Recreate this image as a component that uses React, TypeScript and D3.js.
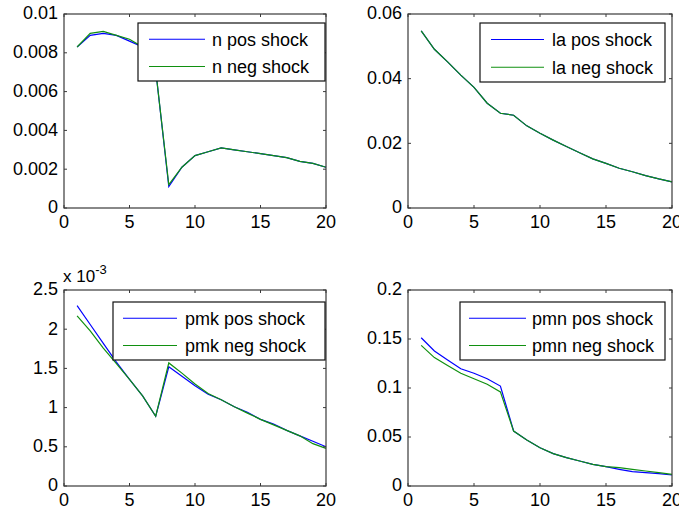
import React from "react";
import * as d3 from "d3";

const periods = [1, 2, 3, 4, 5, 6, 7, 8, 9, 10, 11, 12, 13, 14, 15, 16, 17, 18, 19, 20];

const nPos = [0.0083, 0.0089, 0.0090, 0.0089, 0.0086, 0.0083, 0.0071, 0.0011, 0.0021, 0.0027, 0.0029, 0.0031, 0.0030, 0.0029, 0.0028, 0.0027, 0.0026, 0.0024, 0.0023, 0.0021];
const nNeg = [0.0083, 0.0090, 0.0091, 0.0089, 0.0087, 0.0083, 0.0071, 0.0012, 0.0021, 0.0027, 0.0029, 0.0031, 0.0030, 0.0029, 0.0028, 0.0027, 0.0026, 0.0024, 0.0023, 0.0021];

const laPos = [0.0548, 0.0491, 0.0452, 0.0411, 0.0373, 0.0324, 0.0293, 0.0287, 0.0254, 0.0231, 0.0210, 0.0190, 0.0171, 0.0152, 0.0138, 0.0123, 0.0112, 0.0100, 0.0090, 0.0081];
const laNeg = [0.0548, 0.0491, 0.0452, 0.0411, 0.0373, 0.0324, 0.0293, 0.0287, 0.0254, 0.0231, 0.0210, 0.0190, 0.0171, 0.0152, 0.0138, 0.0123, 0.0112, 0.0100, 0.0090, 0.0081];

const pmkPos = [0.00230, 0.00206, 0.00182, 0.00158, 0.00136, 0.00115, 0.00089, 0.00152, 0.00140, 0.00128, 0.00117, 0.00110, 0.00101, 0.00094, 0.00085, 0.00079, 0.00071, 0.00064, 0.00057, 0.00050];
const pmkNeg = [0.00217, 0.00198, 0.00176, 0.00156, 0.00136, 0.00115, 0.00089, 0.00157, 0.00144, 0.00130, 0.00118, 0.00110, 0.00101, 0.00093, 0.00085, 0.00078, 0.00071, 0.00064, 0.00054, 0.00048];

const pmnPos = [0.1513, 0.1378, 0.1286, 0.1197, 0.1150, 0.1095, 0.1020, 0.0561, 0.0470, 0.0390, 0.0330, 0.0290, 0.0255, 0.0221, 0.0197, 0.0170, 0.0146, 0.0136, 0.0126, 0.0112];
const pmnNeg = [0.1435, 0.1310, 0.1230, 0.1150, 0.1095, 0.1038, 0.0960, 0.0561, 0.0470, 0.0390, 0.0330, 0.0290, 0.0255, 0.0221, 0.0197, 0.0187, 0.0170, 0.0153, 0.0136, 0.0119];

const xTicks = [0, 5, 10, 15, 20];
const nTicks = [0, 0.002, 0.004, 0.006, 0.008, 0.01];
const laTicks = [0, 0.02, 0.04, 0.06];
const pmkTicks = [0, 0.0005, 0.001, 0.0015, 0.002, 0.0025];
const pmnTicks = [0, 0.05, 0.1, 0.15, 0.2];

const nLabels = ["0", "0.002", "0.004", "0.006", "0.008", "0.01"];
const laLabels = ["0", "0.02", "0.04", "0.06"];
const pmkLabels = ["0", "0.5", "1", "1.5", "2", "2.5"];
const pmnLabels = ["0", "0.05", "0.1", "0.15", "0.2"];

const seriesNames = [
  ["n pos shock", "n neg shock"],
  ["la pos shock", "la neg shock"],
  ["pmk pos shock", "pmk neg shock"],
  ["pmn pos shock", "pmn neg shock"],
];

const BLUE = "#0000ff";
const GREEN = "#109010";
const FONT = "'Liberation Sans', Arial, Helvetica, sans-serif";

type Panel = {
  left: number; right: number; top: number; bottom: number;
  ymax: number; yTicks: number[]; yLabels: string[];
  pos: number[]; neg: number[]; names: string[];
  leg: { x0: number; x1: number; y0: number; y1: number; l0: number; l1: number; t: number };
  exponent?: boolean;
};

const panels: Panel[] = [
  { left: 64, right: 326, top: 14, bottom: 208, ymax: 0.01, yTicks: nTicks, yLabels: nLabels, pos: nPos, neg: nNeg, names: seriesNames[0],
    leg: { x0: 138, x1: 325, y0: 23, y1: 81, l0: 149, l1: 205, t: 212 } },
  { left: 408, right: 672, top: 14, bottom: 208, ymax: 0.06, yTicks: laTicks, yLabels: laLabels, pos: laPos, neg: laNeg, names: seriesNames[1],
    leg: { x0: 480, x1: 665, y0: 23, y1: 82, l0: 491, l1: 544, t: 552 } },
  { left: 64, right: 326, top: 290, bottom: 486, ymax: 0.0025, yTicks: pmkTicks, yLabels: pmkLabels, pos: pmkPos, neg: pmkNeg, names: seriesNames[2],
    leg: { x0: 113, x1: 325, y0: 302, y1: 360, l0: 123, l1: 177, t: 185 }, exponent: true },
  { left: 408, right: 672, top: 290, bottom: 486, ymax: 0.2, yTicks: pmnTicks, yLabels: pmnLabels, pos: pmnPos, neg: pmnNeg, names: seriesNames[3],
    leg: { x0: 460, x1: 665, y0: 302, y1: 360, l0: 469, l1: 526, t: 532 } },
];

function PanelView({ p }: { p: Panel }) {
  const x = d3.scaleLinear().domain([0, 20]).range([p.left, p.right]);
  const y = d3.scaleLinear().domain([0, p.ymax]).range([p.bottom, p.top]);
  const line = d3.line<number>().x((_, i) => x(periods[i])).y((d) => y(d));
  const tl = 3;
  const axisColor = "#3a3a3a";
  const ly0 = p.leg.y0 + (p.leg.y1 - p.leg.y0) * 0.28;
  const ly1 = p.leg.y0 + (p.leg.y1 - p.leg.y0) * 0.75;
  return (
    <g>
      <rect x={p.left} y={p.top} width={p.right - p.left} height={p.bottom - p.top} fill="#fff" stroke="none" />
      <path d={line(p.pos) || ""} fill="none" stroke={BLUE} strokeWidth={1.2} />
      <path d={line(p.neg) || ""} fill="none" stroke={GREEN} strokeWidth={1.2} />
      {xTicks.map((t) => (
        <g key={"x" + t}>
          <line x1={x(t)} x2={x(t)} y1={p.bottom} y2={p.bottom - tl} stroke={axisColor} />
          <line x1={x(t)} x2={x(t)} y1={p.top} y2={p.top + tl} stroke={axisColor} />
          <text x={x(t)} y={p.bottom + 20} textAnchor="middle" fontSize={18} fontFamily={FONT} fill="#000">{t}</text>
        </g>
      ))}
      {p.yTicks.map((t, i) => (
        <g key={"y" + i}>
          <line x1={p.left} x2={p.left + tl} y1={y(t)} y2={y(t)} stroke={axisColor} />
          <line x1={p.right} x2={p.right - tl} y1={y(t)} y2={y(t)} stroke={axisColor} />
          <text x={p.left - 6} y={y(t) - 1} dy="0.36em" textAnchor="end" fontSize={18} fontFamily={FONT} fill="#000">{p.yLabels[i]}</text>
        </g>
      ))}
      <rect x={p.left} y={p.top} width={p.right - p.left} height={p.bottom - p.top} fill="none" stroke={axisColor} strokeWidth={1.2} />
      {p.exponent && (
        <text x={p.left - 1} y={p.top - 8} fontSize={17} fontFamily={FONT} fill="#000">
          x 10<tspan fontSize={13} dy={-8}>-3</tspan>
        </text>
      )}
      <rect x={p.leg.x0} y={p.leg.y0} width={p.leg.x1 - p.leg.x0} height={p.leg.y1 - p.leg.y0} fill="#fff" stroke="#111" strokeWidth={1.2} />
      <line x1={p.leg.l0} x2={p.leg.l1} y1={ly0} y2={ly0} stroke={BLUE} strokeWidth={1.2} />
      <line x1={p.leg.l0} x2={p.leg.l1} y1={ly1} y2={ly1} stroke={GREEN} strokeWidth={1.2} />
      <text x={p.leg.t} y={ly0} dy="0.36em" fontSize={18} fontFamily={FONT} fill="#000">{p.names[0]}</text>
      <text x={p.leg.t} y={ly1} dy="0.36em" fontSize={18} fontFamily={FONT} fill="#000">{p.names[1]}</text>
    </g>
  );
}

export default function App() {
  return (
    <svg width={679} height={512} style={{ position: "absolute", left: 0, top: 0, background: "#fff" }}>
      <rect x={0} y={0} width={679} height={512} fill="#fff" />
      {panels.map((p, i) => (
        <PanelView key={i} p={p} />
      ))}
    </svg>
  );
}
